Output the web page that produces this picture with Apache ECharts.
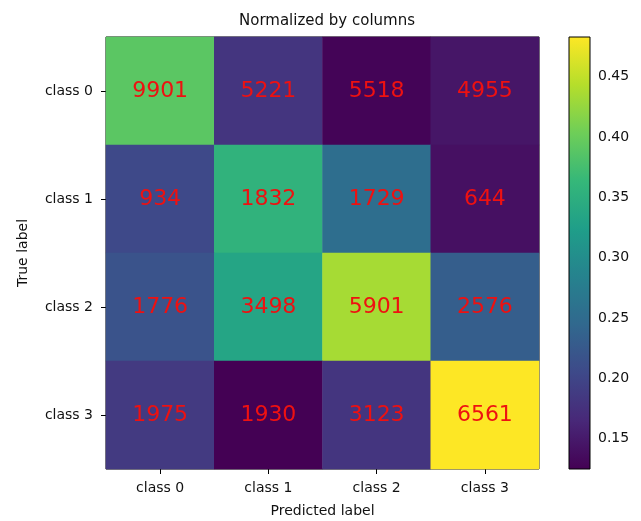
<!DOCTYPE html>
<html>
<head>
<meta charset="utf-8">
<script src="https://cdn.jsdelivr.net/npm/echarts@6/dist/echarts.min.js"></script>
<style>html,body{margin:0;padding:0;background:#fff}#c{width:641px;height:521px}</style>
</head>
<body>
<div id="c"></div>
<script>
var categories = ['class 0', 'class 1', 'class 2', 'class 3'];
var counts = [
  [9901, 5221, 5518, 4955],
  [934, 1832, 1729, 644],
  [1776, 3498, 5901, 2576],
  [1975, 1930, 3123, 6561]
];
var normValues = [
  [0.390, 0.180, 0.128, 0.146],
  [0.204, 0.356, 0.254, 0.140],
  [0.218, 0.335, 0.435, 0.232],
  [0.186, 0.125, 0.180, 0.483]
];
var colorbarTicks = [0.15, 0.20, 0.25, 0.30, 0.35, 0.40, 0.45];
var vMin = 0.125, vMax = 0.483;
var viridis = ['#440154','#482878','#3e4989','#31688e','#26828e','#1f9e89','#35b779','#6ece58','#b5de2b','#fde725'];

var data = [];
for (var r = 0; r < counts.length; r++) {
  for (var c = 0; c < counts[r].length; c++) {
    data.push([c, r, normValues[r][c], counts[r][c]]);
  }
}
var font = 'DejaVu Sans';
var stops = viridis.map(function (col, i) { return { offset: 1 - i / (viridis.length - 1), color: col }; });

var chart = echarts.init(document.getElementById('c'));
chart.setOption({
  animation: false,
  title: {
    text: 'Normalized by columns', left: 322, top: 9, textAlign: 'center',
    textStyle: { fontFamily: font, fontSize: 15, fontWeight: 'normal', color: '#111' }
  },
  grid: [
    { left: 106, top: 37, width: 433, height: 432, outerBoundsMode: 'none', containLabel: false, show: true, borderColor: '#000', borderWidth: 1, backgroundColor: 'transparent' },
    { left: 569, top: 37, width: 21, height: 432, outerBoundsMode: 'none', containLabel: false, show: true, borderColor: '#000', borderWidth: 1, backgroundColor: 'transparent', z: 5 }
  ],
  xAxis: [
    {
      type: 'category', data: categories, gridIndex: 0,
      name: 'Predicted label', nameLocation: 'middle', nameGap: 35,
      nameTextStyle: { fontFamily: font, fontSize: 14, color: '#111' },
      axisLine: { show: false },
      axisTick: { show: true, alignWithLabel: true, length: 5, lineStyle: { color: '#000' } },
      axisLabel: { fontFamily: font, fontSize: 14, color: '#111', margin: 12 },
      splitLine: { show: false }
    },
    { type: 'value', gridIndex: 1, show: false, min: 0, max: 1 }
  ],
  yAxis: [
    {
      type: 'category', data: categories, gridIndex: 0, inverse: true,
      name: 'True label', nameLocation: 'middle', nameGap: 76, nameRotate: 90,
      nameTextStyle: { fontFamily: font, fontSize: 14, color: '#111' },
      axisLine: { show: false },
      axisTick: { show: true, alignWithLabel: true, length: 5, lineStyle: { color: '#000' } },
      axisLabel: { fontFamily: font, fontSize: 14, color: '#111', margin: 13 },
      splitLine: { show: false }
    },
    {
      type: 'value', gridIndex: 1, position: 'right', min: vMin, max: vMax,
      axisLine: { show: false },
      axisTick: { show: true, length: 5, lineStyle: { color: '#000' }, customValues: colorbarTicks },
      axisLabel: {
        fontFamily: font, fontSize: 14, color: '#111', margin: 8, customValues: colorbarTicks,
        formatter: function (v) { return v.toFixed(2); }
      },
      splitLine: { show: false }
    }
  ],
  visualMap: {
    show: false, type: 'continuous', min: vMin, max: vMax, dimension: 2, seriesIndex: 0,
    inRange: { color: viridis }
  },
  graphic: [{
    type: 'rect', left: 569, top: 37, z: 1,
    shape: { width: 21, height: 432 },
    style: { fill: new echarts.graphic.LinearGradient(0, 0, 0, 1, stops) }
  }],
  series: [{
    type: 'heatmap', xAxisIndex: 0, yAxisIndex: 0, data: data,
    label: {
      show: true, fontFamily: font, fontSize: 22, color: '#ee1111',
      formatter: function (p) { return p.data[3]; }
    },
    itemStyle: { borderWidth: 0 },
    emphasis: { disabled: true }
  }]
});
</script>
</body>
</html>
